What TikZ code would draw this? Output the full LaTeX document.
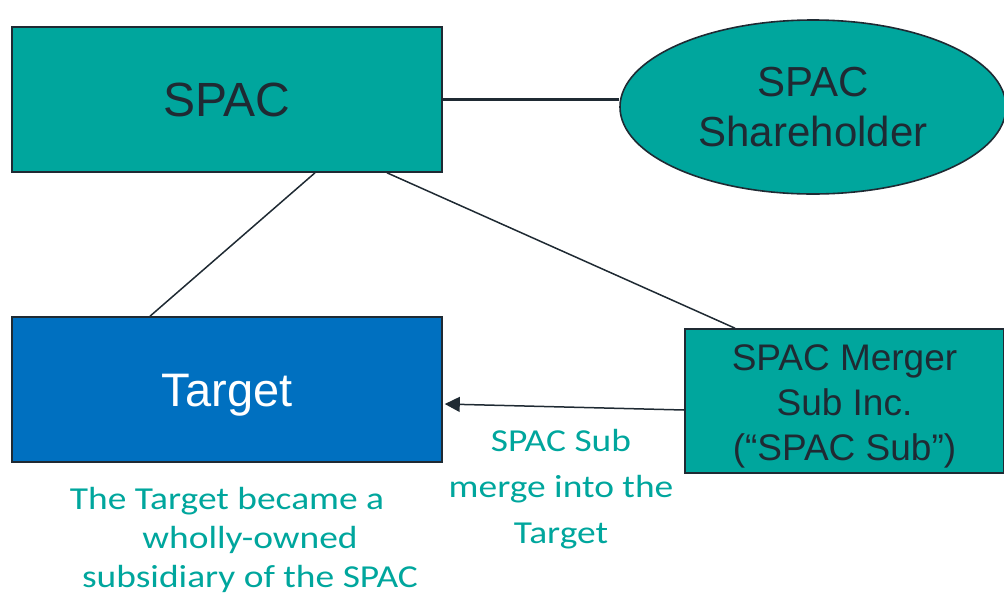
\documentclass[tikz,border=0pt]{standalone}
\usepackage{fontspec}
\setmainfont{Liberation Sans}
\newfontfamily\capfont[FakeStretch=1.17]{Carlito}
\usetikzlibrary{shapes.geometric,arrows.meta}
\definecolor{spacteal}{HTML}{00A69D}
\definecolor{targetblue}{HTML}{0070C0}
\definecolor{inkdark}{HTML}{1F2A33}
\tikzset{
  entity/.style={draw=inkdark,line width=1.6pt,fill=spacteal,inner sep=0pt,align=center,text=inkdark},
  note/.style={align=center,text=spacteal,font=\capfont\fontsize{32}{39}\selectfont}
}
\begin{document}
\begin{tikzpicture}[x=1pt,y=-1pt]
\useasboundingbox (0,0) rectangle (1004,598);

%1
\node[entity,minimum width=430pt,minimum height=145pt,font=\fontsize{48}{50}\selectfont] (spac) at (227,99.5) {SPAC};
%2
\node[entity,ellipse,minimum width=386pt,minimum height=174pt,font=\fontsize{42}{50}\selectfont] (holder) at (813,107) {SPAC\\Shareholder};
%3
\node[entity,fill=targetblue,text=white,minimum width=430pt,minimum height=145pt,font=\fontsize{47}{50}\selectfont,text height=44pt,text depth=10pt] (target) at (227,389.5) {Target};
%4
\node[entity,minimum width=319pt,minimum height=144pt,
  label={[yshift=-5pt,align=center,text=inkdark,font=\fontsize{37}{45}\selectfont]center:{SPAC Merger\\Sub Inc.\\(“SPAC Sub”)}}] (mergersub) at (844.5,401) {};

\draw[inkdark,line width=3pt] (spac.east) -- (spac.east -| holder.west);
\draw[inkdark,line width=1.5pt] ([xshift=88pt]spac.south) -- ([xshift=-77pt]target.north);
\draw[inkdark,line width=1.5pt] ([xshift=160pt]spac.south) -- ([xshift=-109.5pt]mergersub.north);
\draw[inkdark,line width=1.5pt,-{Triangle[width=15pt,length=15pt]}] ([yshift=-9pt]mergersub.west) -- ([xshift=2pt,yshift=-14.5pt]target.east);

\node[note] (became) at (250,540) {The Target became a\hspace*{46pt}\\wholly-owned\\subsidiary of the SPAC};
\node[note,font=\capfont\fontsize{32}{46}\selectfont] (merge) at (561,489) {SPAC Sub\\merge into the\\Target};
\end{tikzpicture}
\end{document}
